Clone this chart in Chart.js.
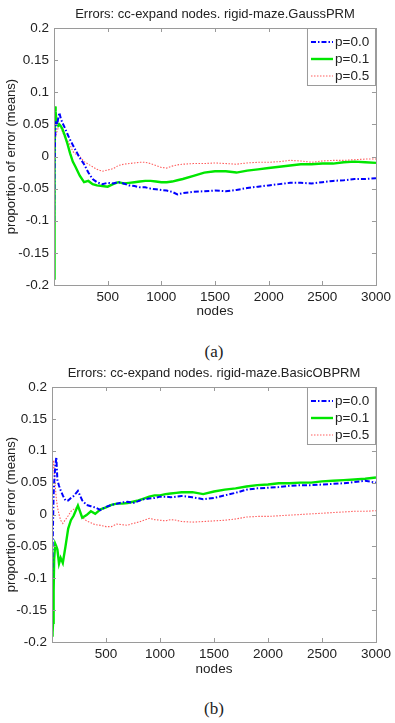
<!DOCTYPE html>
<html>
<head>
<meta charset="utf-8">
<script src="https://cdn.jsdelivr.net/npm/chart.js@4.4.1/dist/chart.umd.min.js"></script>
<style>
  body { margin: 0; background: #fff; width: 395px; height: 723px; position: relative; overflow: hidden; }
  .wrap { position: absolute; left: 0; width: 395px; }
  .cap { position: absolute; left: 0; width: 428px; text-align: center; font-family: "Liberation Serif", "DejaVu Serif", serif; font-size: 17px; color: #222; }
</style>
</head>
<body>
<div class="wrap" id="wrapA" style="top:0;height:322px"><canvas id="chartA"></canvas></div>
<div class="cap" style="top:342px">(a)</div>
<div class="wrap" id="wrapB" style="top:360px;height:322px"><canvas id="chartB"></canvas></div>
<div class="cap" style="top:699px">(b)</div>
<script>
// sample positions (nodes) shared by every series
const nodes = [1, 5, 10, 15, 20, 30, 40, 50, 65, 80, 100, 125, 150, 175, 200, 240, 280, 320, 360, 400,
  450, 500, 550, 600, 650, 700, 750, 800, 850, 900, 950, 1000, 1050, 1100, 1150, 1200, 1300, 1400, 1500,
  1600, 1700, 1800, 1900, 2000, 2100, 2200, 2300, 2400, 2500, 2600, 2700, 2800, 2900, 3000];

const seriesLabels = ["p=0.0", "p=0.1", "p=0.5"];
const xTicks = [500, 1000, 1500, 2000, 2500, 3000];
const yTicks = [-0.2, -0.15, -0.1, -0.05, 0, 0.05, 0.1, 0.15, 0.2];

// (a) GaussPRM
const gaussP00 = [-0.10, -0.02, 0.03, 0.045, 0.055, 0.05, 0.06, 0.068, 0.058, 0.052, 0.045, 0.035, 0.026, 0.018, 0.010,
  -0.002, -0.012, -0.025, -0.035, -0.040, -0.043, -0.041, -0.042, -0.040, -0.042, -0.045, -0.046, -0.048, -0.048,
  -0.050, -0.051, -0.052, -0.053, -0.055, -0.059, -0.057, -0.055, -0.054, -0.053, -0.054, -0.052, -0.049, -0.047,
  -0.045, -0.043, -0.041, -0.041, -0.042, -0.040, -0.038, -0.037, -0.035, -0.035, -0.034];
const gaussP01 = [-0.19, -0.02, 0.078, 0.07, 0.06, 0.052, 0.048, 0.05, 0.047, 0.042, 0.033, 0.02, 0.005, -0.008, -0.016,
  -0.030, -0.040, -0.038, -0.043, -0.045, -0.046, -0.047, -0.043, -0.040, -0.042, -0.041, -0.040, -0.039, -0.038,
  -0.038, -0.039, -0.040, -0.040, -0.039, -0.037, -0.035, -0.030, -0.025, -0.023, -0.023, -0.025, -0.022, -0.020,
  -0.018, -0.016, -0.014, -0.012, -0.012, -0.011, -0.011, -0.009, -0.008, -0.009, -0.010];
const gaussP05 = [0.125, 0.07, 0.04, 0.03, 0.035, 0.04, 0.045, 0.05, 0.045, 0.038, 0.030, 0.025, 0.018, 0.008, 0.004,
  0.0, -0.008, -0.012, -0.016, -0.020, -0.023, -0.021, -0.019, -0.014, -0.012, -0.011, -0.010, -0.009, -0.009,
  -0.011, -0.014, -0.017, -0.018, -0.015, -0.013, -0.012, -0.011, -0.011, -0.010, -0.011, -0.012, -0.010, -0.009,
  -0.009, -0.008, -0.006, -0.007, -0.009, -0.007, -0.006, -0.006, -0.005, -0.004, -0.004];

// (b) BasicOBPRM
const obprmP00 = [-0.10, -0.06, -0.01, 0.03, 0.05, 0.075, 0.090, 0.054, 0.045, 0.038, 0.030, 0.022, 0.022, 0.026, 0.029,
  0.037, 0.022, 0.015, 0.013, 0.011, 0.007, 0.012, 0.015, 0.017, 0.019, 0.020, 0.018, 0.021, 0.024,
  0.025, 0.026, 0.028, 0.028, 0.027, 0.028, 0.029, 0.027, 0.024, 0.026, 0.030, 0.034, 0.039, 0.041,
  0.042, 0.043, 0.045, 0.046, 0.046, 0.047, 0.048, 0.049, 0.051, 0.053, 0.050];
const obprmP01 = [-0.19, -0.185, -0.17, -0.12, -0.07, -0.046, -0.05, -0.055, -0.077, -0.068, -0.076, -0.05, -0.022, -0.009, -0.002,
  0.014, -0.005, -0.001, 0.005, 0.001, 0.008, 0.011, 0.015, 0.017, 0.017, 0.018, 0.020, 0.022, 0.025,
  0.028, 0.030, 0.030, 0.032, 0.033, 0.034, 0.035, 0.035, 0.032, 0.036, 0.039, 0.041, 0.044, 0.046,
  0.047, 0.049, 0.049, 0.050, 0.050, 0.052, 0.053, 0.054, 0.055, 0.056, 0.058];
const obprmP05 = [0.02, 0.06, 0.08, 0.085, 0.07, 0.045, 0.025, 0.012, 0.0, -0.009, -0.014, -0.008, -0.002, 0.005, 0.008,
  0.012, -0.004, -0.010, -0.013, -0.016, -0.017, -0.019, -0.019, -0.015, -0.016, -0.017, -0.014, -0.012, -0.009,
  -0.006, -0.008, -0.009, -0.010, -0.008, -0.009, -0.011, -0.012, -0.011, -0.010, -0.009, -0.007, -0.004, -0.003,
  -0.003, -0.002, -0.001, 0.000, 0.001, 0.002, 0.003, 0.004, 0.005, 0.005, 0.006];

const FONT = "'Liberation Sans', Arial, Helvetica, sans-serif";
const INK = "#222";
const styles = [
  { borderColor: "#0000ff", borderWidth: 2, borderDash: [5, 2, 1.5, 2] },
  { borderColor: "#00e600", borderWidth: 2.4, borderDash: [] },
  { borderColor: "rgba(255, 40, 40, 0.75)", borderWidth: 1.1, borderDash: [1.5, 1.5] },
];

const fmt = (v) => String(Number(v.toFixed(2)));

// box with inward tick marks, MATLAB style
const framePlugin = {
  id: "frame",
  afterDatasetsDraw(chart) {
    const { ctx, chartArea: a, scales } = chart;
    ctx.save();
    ctx.strokeStyle = "#9a9a9a";
    ctx.lineWidth = 1;
    ctx.strokeRect(a.left + 0.5, a.top + 0.5, a.right - a.left, a.bottom - a.top);
    ctx.beginPath();
    xTicks.forEach((v) => {
      const px = Math.round(scales.x.getPixelForValue(v)) + 0.5;
      ctx.moveTo(px, a.bottom); ctx.lineTo(px, a.bottom - 4);
      ctx.moveTo(px, a.top); ctx.lineTo(px, a.top + 4);
    });
    yTicks.forEach((v) => {
      const py = Math.round(scales.y.getPixelForValue(v)) + 0.5;
      ctx.moveTo(a.left, py); ctx.lineTo(a.left + 4, py);
      ctx.moveTo(a.right, py); ctx.lineTo(a.right - 4, py);
    });
    ctx.stroke();
    ctx.restore();
  },
};

// legend box in the upper right corner of the axes
const legendPlugin = {
  id: "boxLegend",
  afterDraw(chart) {
    const { ctx, chartArea: a } = chart;
    const w = 69, h = 57;
    const x0 = a.right - w, y0 = a.top;
    ctx.save();
    ctx.fillStyle = "#fff";
    ctx.fillRect(x0, y0, w, h);
    ctx.strokeStyle = "#9a9a9a";
    ctx.lineWidth = 1;
    ctx.strokeRect(x0 + 0.5, y0 + 0.5, w - 1, h);
    ctx.font = "13.5px " + FONT;
    ctx.textBaseline = "middle";
    ctx.fillStyle = INK;
    chart.data.datasets.forEach((ds, i) => {
      const y = y0 + 14 + i * 17;
      ctx.save();
      ctx.strokeStyle = ds.borderColor;
      ctx.lineWidth = ds.borderWidth;
      ctx.setLineDash(ds.borderDash);
      ctx.beginPath();
      ctx.moveTo(x0 + 4, y); ctx.lineTo(x0 + 26, y);
      ctx.stroke();
      ctx.restore();
      ctx.fillText(ds.label, x0 + 28, y + 0.5);
    });
    ctx.restore();
  },
};

function makeChart(id, title, values, geo) {
  const datasets = values.map((vals, i) => ({
    label: seriesLabels[i],
    data: nodes.map((n, k) => ({ x: n, y: vals[k] })),
    borderColor: styles[i].borderColor,
    borderWidth: styles[i].borderWidth,
    borderDash: styles[i].borderDash,
    pointRadius: 0,
    tension: 0,
    fill: false,
  }));
  return new Chart(document.getElementById(id), {
    type: "line",
    data: { datasets },
    options: {
      responsive: true,
      maintainAspectRatio: false,
      animation: false,
      layout: { padding: { left: 0, right: 395 - geo.right, top: 0, bottom: 0 } },
      plugins: {
        legend: { display: false },
        tooltip: { enabled: false },
        title: {
          display: true,
          fullSize: false,
          text: title,
          color: INK,
          font: { family: FONT, size: 13, weight: "normal" },
          padding: { top: geo.titlePad, bottom: geo.top - geo.titlePad - 15.6 },
        },
      },
      scales: {
        x: {
          type: "linear",
          min: 0,
          max: 3000,
          afterBuildTicks: (s) => { s.ticks = xTicks.map((v) => ({ value: v })); },
          afterFit: (s) => { s.height = geo.height - geo.bottom; },
          grid: { display: false, drawTicks: false },
          border: { display: false },
          ticks: { color: INK, padding: 4, maxRotation: 0, font: { family: FONT, size: 13.5 }, callback: (v) => String(v) },
          title: { display: true, text: "nodes", color: INK, font: { family: FONT, size: 13.5 }, padding: { top: 0, bottom: geo.xTitlePad } },
        },
        y: {
          type: "linear",
          min: -0.2,
          max: 0.2,
          afterBuildTicks: (s) => { s.ticks = yTicks.map((v) => ({ value: v })); },
          afterFit: (s) => { s.width = geo.left; },
          grid: { display: false, drawTicks: false },
          border: { display: false },
          ticks: { color: INK, padding: 5, font: { family: FONT, size: 13.5 }, callback: (v) => fmt(v) },
          title: { display: true, text: "proportion of error (means)", color: INK, font: { family: FONT, size: 13 }, padding: { top: 4, bottom: 0 } },
        },
      },
    },
    plugins: [framePlugin, legendPlugin],
  });
}

makeChart("chartA", "Errors: cc-expand nodes. rigid-maze.GaussPRM", [gaussP00, gaussP01, gaussP05],
  { left: 54, right: 381, top: 28, bottom: 285, height: 322, titlePad: 6.2, xTitlePad: 2.2 });
makeChart("chartB", "Errors: cc-expand nodes. rigid-maze.BasicOBPRM", [obprmP00, obprmP01, obprmP05],
  { left: 52, right: 378, top: 27, bottom: 282, height: 322, titlePad: 5.2, xTitlePad: 4.2 });
</script>
</body>
</html>
